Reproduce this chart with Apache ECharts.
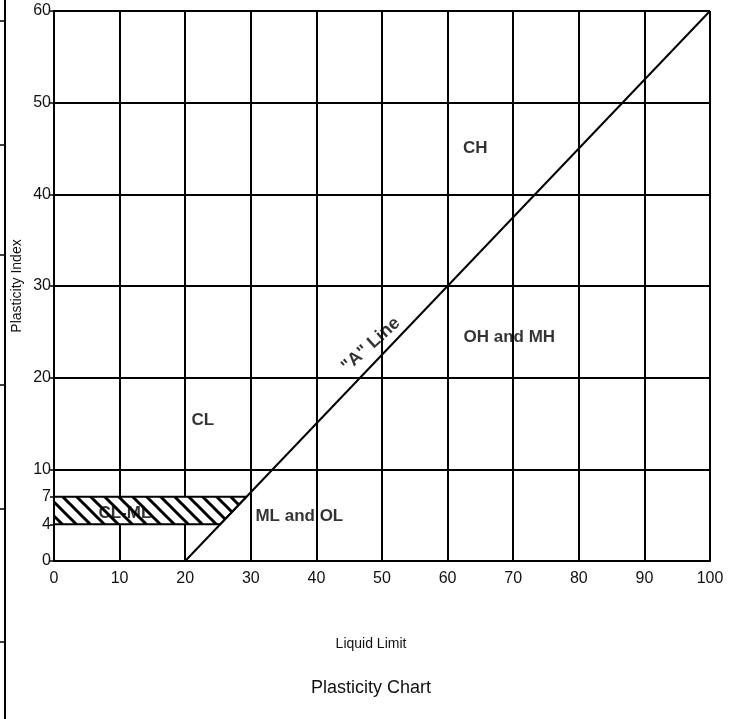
<!DOCTYPE html>
<html>
<head>
<meta charset="utf-8">
<script src="https://cdn.jsdelivr.net/npm/echarts@6/dist/echarts.min.js"></script>
<style>
  html, body { margin: 0; padding: 0; background: #fff; }
  #chart { width: 742px; height: 719px; }
</style>
</head>
<body>
<div id="chart"></div>
<script>
// Casagrande plasticity chart: liquid limit vs plasticity index
const xTicks = [0, 10, 20, 30, 40, 50, 60, 70, 80, 90, 100];
const yTicks = [0, 4, 7, 10, 20, 30, 40, 50, 60];
// "A" line end points [liquid limit, plasticity index]
const aLine = [[20, 0], [100, 60]];
// CL-ML band limits (plasticity index)
const clMlBand = [4, 7];
// zone names and where they are written [LL, PI]
const zoneNames = ['CH', 'OH and MH', 'CL', 'ML and OL', 'CL-ML'];
const zoneLL = [64.2, 69.4, 22.7, 37.4, 10.8];
const zonePI = [45.0, 24.4, 15.4, 4.9, 5.2];
// where the "A" line caption sits [LL, PI]
const aLineCaption = [48.3, 23.6];

// liquid limit on the A line for a given plasticity index
function aLineLL(pi) {
  const [p0, p1] = aLine;
  return p0[0] + (pi - p0[1]) * (p1[0] - p0[0]) / (p1[1] - p0[1]);
}
const hatchPoly = [
  [0, clMlBand[0]],
  [aLineLL(clMlBand[0]), clMlBand[0]],
  [aLineLL(clMlBand[1]), clMlBand[1]],
  [0, clMlBand[1]]
];

// diagonal hatch pattern
const pat = document.createElement('canvas');
pat.width = 14; pat.height = 14;
(function () {
  const c = pat.getContext('2d');
  c.fillStyle = '#fff';
  c.fillRect(0, 0, 14, 14);
  c.strokeStyle = '#000';
  c.lineWidth = 3;
  c.beginPath();
  c.moveTo(-2, -2); c.lineTo(16, 16);
  c.moveTo(-9, 5); c.lineTo(2, 16);
  c.moveTo(12, -2); c.lineTo(23, 9);
  c.stroke();
})();

const FONT = '"Liberation Sans", Arial, sans-serif';
const chart = echarts.init(document.getElementById('chart'), null, { renderer: 'canvas' });

chart.setOption({
  animation: false,
  backgroundColor: '#fff',
  title: [
    { text: 'Liquid Limit', left: 'center', top: 632,
      textStyle: { fontFamily: FONT, fontSize: 14, fontWeight: 'normal', color: '#111' } },
    { text: 'Plasticity Chart', left: 'center', top: 674,
      textStyle: { fontFamily: FONT, fontSize: 18, fontWeight: 'normal', color: '#111' } }
  ],
  grid: { left: 54, right: 32, top: 11, bottom: 158 },
  xAxis: {
    type: 'value', min: 0, max: 100, interval: 10,
    axisLine: { show: true, lineStyle: { color: '#000', width: 2 } },
    axisTick: { show: false },
    axisLabel: { fontFamily: FONT, fontSize: 16, color: '#111', margin: 10,
      customValues: xTicks },
    splitLine: { show: true, lineStyle: { color: '#000', width: 2 } }
  },
  yAxis: [
    {
      type: 'value', min: 0, max: 60, interval: 10,
      name: 'Plasticity Index', nameLocation: 'middle', nameGap: 30,
      nameTextStyle: { fontFamily: FONT, fontSize: 14, color: '#111' },
      axisLine: { show: true, lineStyle: { color: '#000', width: 2 } },
      axisTick: { show: false },
      axisLabel: { show: false },
      splitLine: { show: true, lineStyle: { color: '#000', width: 2 } }
    },
    {
      type: 'value', min: 0, max: 60, position: 'left',
      axisLine: { show: false },
      axisTick: { show: true, length: 4, customValues: yTicks,
        lineStyle: { color: '#000', width: 1.5 } },
      axisLabel: { fontFamily: FONT, fontSize: 16, color: '#111', margin: 3,
        customValues: yTicks },
      splitLine: { show: false }
    }
  ],
  graphic: [
    { type: 'line', shape: { x1: 5, y1: 0, x2: 5, y2: 719 },
      style: { stroke: '#000', lineWidth: 2 } }
  ].concat([21, 145, 255, 385, 509, 642].map(y => ({
    type: 'line', shape: { x1: 0, y1: y, x2: 5, y2: y },
    style: { stroke: '#000', lineWidth: 1.5 }
  }))),
  series: [
    {
      name: 'CL-ML', type: 'custom', xAxisIndex: 0, yAxisIndex: 0,
      data: [0],
      renderItem: function (params, api) {
        const pts = hatchPoly.map(p => api.coord(p));
        return {
          type: 'polygon',
          shape: { points: pts },
          style: { fill: { image: pat, repeat: 'repeat' }, stroke: '#000', lineWidth: 2 }
        };
      },
      z: 3
    },
    {
      name: 'A Line', type: 'line', data: aLine, symbol: 'none',
      lineStyle: { color: '#000', width: 2 }, z: 4
    },
    {
      name: 'A Line label', type: 'scatter', symbolSize: 0,
      data: [aLineCaption],
      itemStyle: { color: '#000' },
      label: { show: true, formatter: '"A" Line', rotate: 42, position: 'inside',
        fontFamily: FONT, fontSize: 18, fontWeight: 'bold', color: '#000',
        textBorderWidth: 0 },
      z: 5
    },
    {
      name: 'zones', type: 'scatter', symbolSize: 0,
      data: zoneNames.map((n, i) => ({ name: n, value: [zoneLL[i], zonePI[i]] })),
      itemStyle: { color: '#000' },
      label: { show: true, position: 'inside', formatter: '{b}',
        fontFamily: FONT, fontSize: 17, fontWeight: 'bold', color: '#000',
        textBorderWidth: 0 },
      z: 5
    }
  ]
});
</script>
</body>
</html>
